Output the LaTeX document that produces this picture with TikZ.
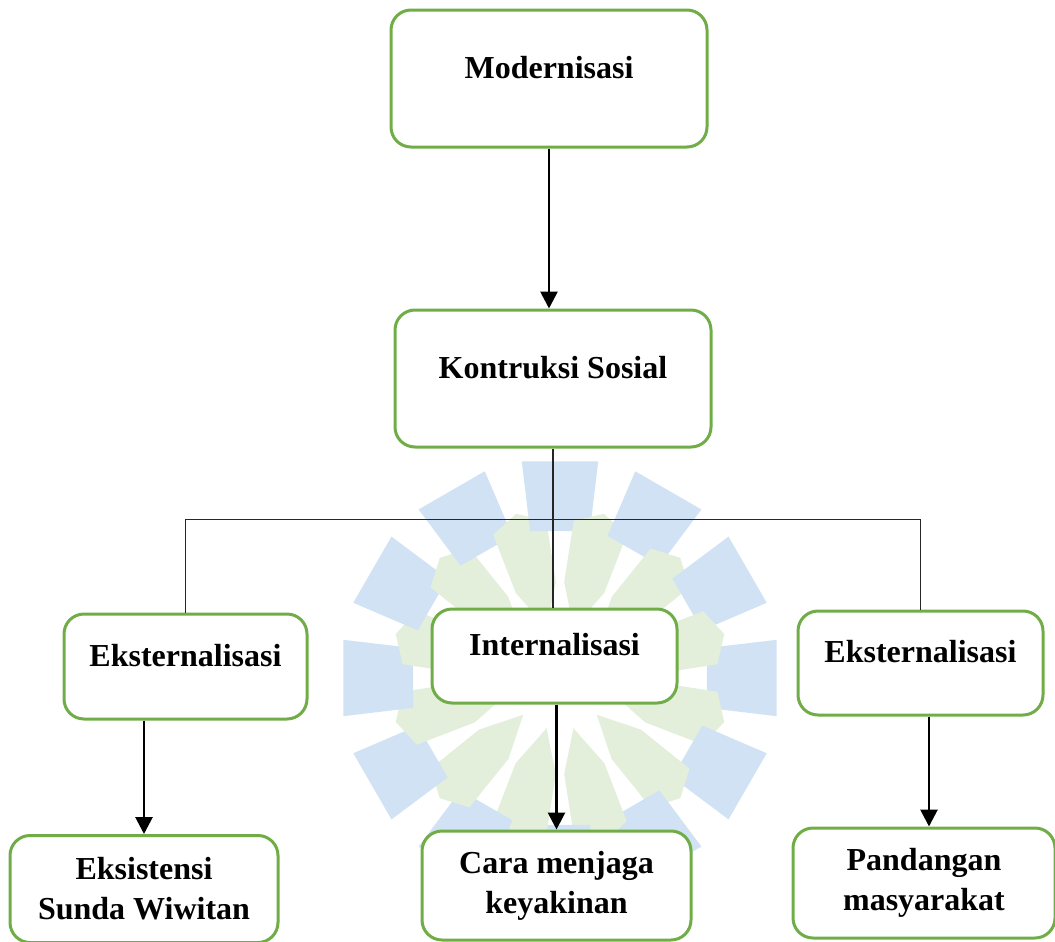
\documentclass[tikz,border=0pt]{standalone}
\usepackage{fontspec}
\setmainfont{Liberation Serif}
\usetikzlibrary{arrows.meta,calc,positioning}
\definecolor{boxgreen}{RGB}{112,173,71}
\definecolor{wmblue}{RGB}{208,226,243}
\definecolor{wmgreen}{RGB}{227,239,219}
\tikzstyle{box}=[draw=boxgreen, line width=1.5pt, rounded corners=10pt, fill=white,
                align=center, font=\fontsize{16}{20}\selectfont\bfseries, inner sep=2pt]
\tikzstyle{top text}=[text height=11pt, text depth=11.5pt]
\tikzstyle{arr}=[-{Triangle[length=8.5pt,width=8.5pt]}, line width=1.4pt]
\tikzstyle{tree line}=[draw=black!85, line width=0.6pt]

\begin{document}
\begin{tikzpicture}[x=0.5pt,y=-0.5pt]
  \useasboundingbox (0,0) rectangle (1055,942);
  % watermark
  \begin{scope}[shift={(560,678)}]
    \foreach \a in {0,30,...,330}{
      \fill[wmblue] (\a-11.5:150) -- (\a+11.5:150) -- (\a+10:220) -- (\a-10:220) -- cycle;
      \fill[wmgreen] (\a+15:52) -- (\a+2.5:96) -- (\a+5:158) -- (\a+15:170)
                     -- (\a+25:158) -- (\a+27.5:96) -- cycle;
    }
  \end{scope}

  \node[box, top text, minimum width=158pt, minimum height=68.5pt] (mod) at (549,78.5) {Modernisasi};
  \node[box, top text, minimum width=158pt, minimum height=68.5pt] (kon) at (553,378.5) {Kontruksi Sosial};
  \node[box, top text, minimum width=121.5pt, minimum height=52.5pt] (eksL) at (185.5,666.5) {Eksternalisasi};
  \node[box, top text, minimum width=122.5pt, minimum height=47pt] (intern) at (554.5,656) {Internalisasi};
  \node[box, top text, minimum width=122.5pt, minimum height=52pt] (eksR) at (920.5,663) {Eksternalisasi};
  \node[box, minimum width=134pt, minimum height=53.5pt] (eksis) at (144,889) {Eksistensi\\Sunda Wiwitan};
  \node[box, minimum width=134.5pt, minimum height=54.5pt] (cara) at (556.5,885.5) {Cara menjaga\\keyakinan};
  \node[box, minimum width=131pt, minimum height=55pt] (pandang) at (924,883) {Pandangan\\masyarakat};

  \draw[arr] (mod.south) -- (mod.south |- kon.north);
  \draw[tree line] (kon.south) -- ++(0,71) coordinate (fork);
  \draw[tree line] (eksL.north) |- (fork) -| (eksR.north);
  \draw[tree line] (fork) -- (fork |- intern.north);

  \coordinate (pdTop) at ([xshift=2.5pt]pandang.north);
  \draw[arr] (eksis.north |- eksL.south) -- (eksis.north);
  \draw[arr] (cara.north |- intern.south) -- (cara.north);
  \draw[arr] (pdTop |- eksR.south) -- (pdTop);
\end{tikzpicture}
\end{document}
